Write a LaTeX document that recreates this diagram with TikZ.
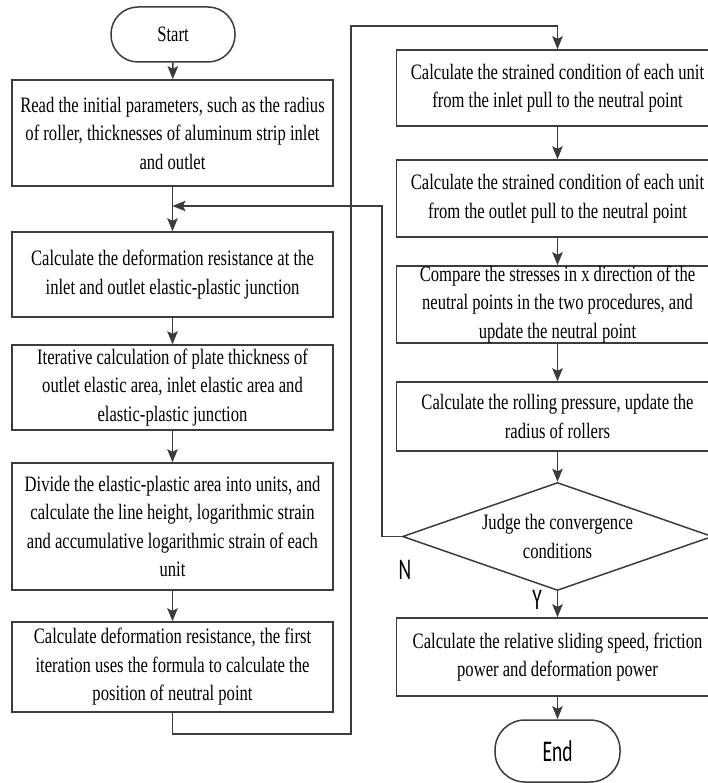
\documentclass[tikz,border=0pt]{standalone}
\usepackage{fontspec}
\setmainfont{Liberation Serif}[FakeStretch=0.755]
\newfontfamily\labelfont{Carlito}[FakeStretch=0.65]
\usetikzlibrary{shapes.geometric,arrows.meta}
\definecolor{linegray}{HTML}{3C3C3C}
\begin{document}
\begin{tikzpicture}[x=1pt,y=-1pt,
  line/.style={draw=linegray,line width=1.5pt},
  arr/.style={line,-{Stealth[length=13pt,width=10.5pt,inset=2.5pt]}},
  box/.style={line,rectangle,align=center,inner sep=0pt,font=\fontsize{22}{28.5}\selectfont},
  term/.style={line,rectangle,rounded corners=27pt,align=center,inner sep=0pt},
  dec/.style={line,diamond,shape aspect=2.87,align=center,inner sep=0pt,font=\fontsize{22}{28.5}\selectfont},
  lbl/.style={inner sep=0pt,font=\labelfont\fontsize{30}{30}\selectfont}]
\useasboundingbox (0,0) rectangle (708,783);
% left column
\node[term,minimum width=124pt,minimum height=55pt,font=\fontsize{22}{28}\selectfont] (start) at (173,34.5) {Start};
\node[box,minimum width=321pt,minimum height=106pt] (b1) at (172.5,133)
  {Read the initial parameters, such as the radius\\of roller, thicknesses of aluminum strip inlet\\and outlet};
\node[box,minimum width=321pt,minimum height=85pt] (b2) at (172.5,274.5)
  {Calculate the deformation resistance at the\\inlet and outlet elastic-plastic junction};
\node[box,minimum width=321pt,minimum height=85pt] (b3) at (172.5,387.5)
  {Iterative calculation of plate thickness of\\outlet elastic area, inlet elastic area and\\elastic-plastic junction};
\node[box,minimum width=321pt,minimum height=127pt] (b4) at (172.5,526.5)
  {Divide the elastic-plastic area into units, and\\calculate the line height, logarithmic strain\\and accumulative logarithmic strain of each\\unit};
\node[box,minimum width=321pt,minimum height=90pt] (b5) at (172.5,667)
  {Calculate deformation resistance, the first\\iteration uses the formula to calculate the\\position of neutral point};
% right column
\node[box,minimum width=322pt,minimum height=76pt] (r1) at (557.5,88)
  {Calculate the strained condition of each unit\\from the inlet pull to the neutral point};
\node[box,minimum width=322pt,minimum height=77pt] (r2) at (557.5,198.5)
  {Calculate the strained condition of each unit\\from the outlet pull to the neutral point};
\node[box,minimum width=322pt,minimum height=77pt] (r3) at (557.5,304.5)
  {Compare the stresses in x direction of the\\neutral points in the two procedures, and\\update the neutral point};
\node[box,minimum width=322pt,minimum height=69pt] (r4) at (557.5,416.5)
  {Calculate the rolling pressure, update the\\radius of rollers};
\node[dec,minimum width=310pt,minimum height=108pt] (dia) at (557.5,536.5)
  {Judge the convergence\\conditions};
\node[box,minimum width=322pt,minimum height=78pt] (r5) at (557.5,657)
  {Calculate the relative sliding speed, friction\\power and deformation power};
\node[term,minimum width=125pt,minimum height=62pt,rounded corners=30pt,font=\labelfont\fontsize{30}{30}\selectfont] (end) at (557.5,751) {End};
% labels
\node[lbl] (nlab) at (405,570) {N};
\node[lbl] (ylab) at (537,600) {Y};
% helper coordinates
\coordinate (lpA) at (351,734);
\coordinate (lpB) at (351,26);
\coordinate (fbA) at (382,206);
\coordinate (fbEnd) at (172.5,206);
% connectors
\draw[arr] (start) -- (b1);
\draw[arr] (b1) -- (b2);
\draw[arr] (b2) -- (b3);
\draw[arr] (b3) -- (b4);
\draw[arr] (b4) -- (b5);
\draw[arr] (b5.south) |- (lpA) |- (lpB) -| (r1.north);
\draw[arr] (r1) -- (r2);
\draw[arr] (r2) -- (r3);
\draw[arr] (r3) -- (r4);
\draw[arr] (r4) -- (dia);
\draw[arr] (dia) -- (r5);
\draw[arr] (r5) -- (end);
\draw[arr] (dia.west) -| (fbA) -- (fbEnd);
\end{tikzpicture}
\end{document}
